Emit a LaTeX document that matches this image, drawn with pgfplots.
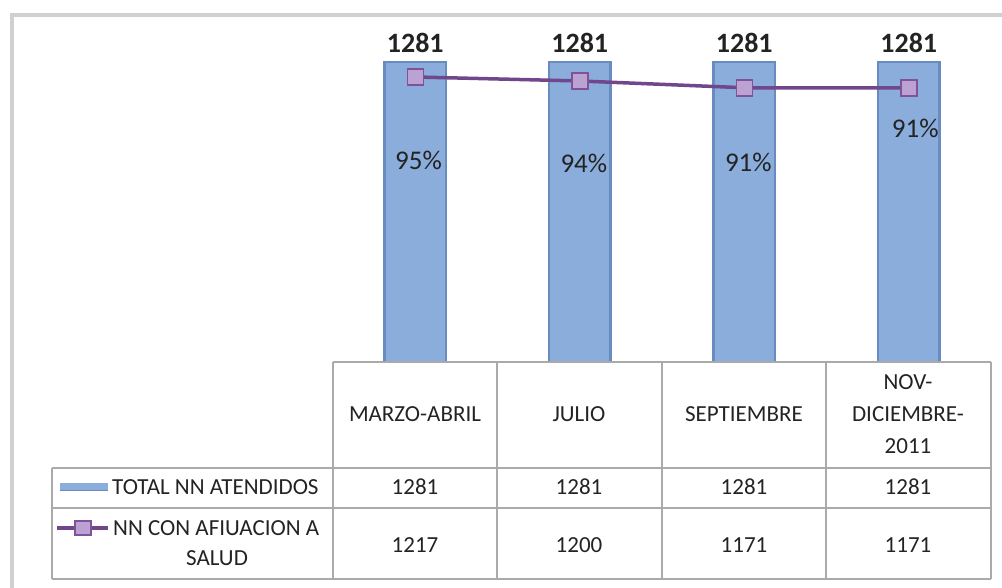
\documentclass[border=0pt]{standalone}
\usepackage{pgfplots}
\pgfplotsset{compat=1.18}
\usepackage{fontspec}
\setmainfont{Carlito}

\definecolor{barblue}{RGB}{138,173,220}
\definecolor{baredge}{RGB}{104,140,192}
\definecolor{linepurple}{RGB}{112,70,140}
\definecolor{marklav}{RGB}{188,162,210}
\definecolor{markedge}{RGB}{128,82,152}
\definecolor{gridgray}{RGB}{170,170,170}
\definecolor{framegray}{RGB}{208,208,208}
\definecolor{txt}{RGB}{35,35,35}

\newcommand{\tabfont}{\fontsize{23}{32}\selectfont}

\begin{document}
\begin{tikzpicture}[x=1pt,y=1pt]
\useasboundingbox (0,0) rectangle (1002,588);

% outer chart frame
\draw[framegray, line width=4pt] (12,-5) -- (12,573) -- (1010,573);

\begin{axis}[
    at={(333pt,226pt)}, anchor=south west,
    scale only axis,
    width=658pt, height=337pt,
    xmin=-0.5, xmax=3.5,
    ymin=0, ymax=1439,
    axis lines=none,
    clip=false,
    /pgf/number format/assume math mode=true,
    /pgf/number format/1000 sep={},
]

% TOTAL NN ATENDIDOS
\addplot[ybar, bar width=0.375, fill=barblue, draw=baredge, line width=2.5pt,
    nodes near coords,
    every node near coord/.append style={anchor=base, yshift=9pt,
        font=\bfseries\fontsize{28}{30}\selectfont, text=txt}]
coordinates {(0,1281) (1,1281) (2,1281) (3,1281)};

% NN CON AFILIACION A SALUD
\addplot[linepurple, line width=3.5pt, mark=square*, mark size=8pt,
    mark options={fill=marklav, draw=markedge, line width=1.5pt}]
coordinates {(0,1217) (1,1200) (2,1171) (3,1171)};

% percentage labels
\addplot[draw=none, mark=none, nodes near coords, point meta=explicit symbolic,
    every node near coord/.append style={anchor=center,
        font=\fontsize{27}{30}\selectfont, text=txt}]
coordinates {(0.02,862)[95\%] (1.025,850)[94\%] (2.025,854)[91\%] (3.04,999)[91\%]};

\end{axis}

% data table
\begin{scope}[gridgray, line width=1.6pt]
\draw (333,226) -- (991,226);
\draw (52,120) -- (991,120);
\draw (52,80) -- (991,80);
\draw (52,9) -- (991,9);
\draw (52,120) -- (52,9);
\foreach \xx in {333,497,662,826,991} \draw (\xx,226) -- (\xx,9);
\end{scope}

\begin{scope}[every node/.style={font=\tabfont, text=txt, inner sep=0pt}]
\node at (415,174) {MARZO-ABRIL};
\node at (579,174) {JULIO};
\node at (744,174) {SEPTIEMBRE};
\node[align=center] at (908,174) {NOV-\\DICIEMBRE-\\2011};

\foreach \xx in {415,579,744,908} \node at (\xx,101) {1281};
\node at (415,43) {1217};
\node at (579,43) {1200};
\node at (744,43) {1171};
\node at (908,43) {1171};

\node[anchor=west] at (112,101) {TOTAL NN ATENDIDOS};
\node[anchor=west] at (113,60) {NN CON AFIUACION A};
\node at (217,30) {SALUD};
\end{scope}

% legend keys
\fill[barblue] (60,97) rectangle (108,105);
\draw[baredge, line width=1pt] (60,97) -- (108,97);
\draw[linepurple, line width=3.5pt] (57,60) -- (108,60);
\draw[markedge, fill=marklav, line width=1.2pt] (75,53) rectangle (91,67);

\end{tikzpicture}
\end{document}
